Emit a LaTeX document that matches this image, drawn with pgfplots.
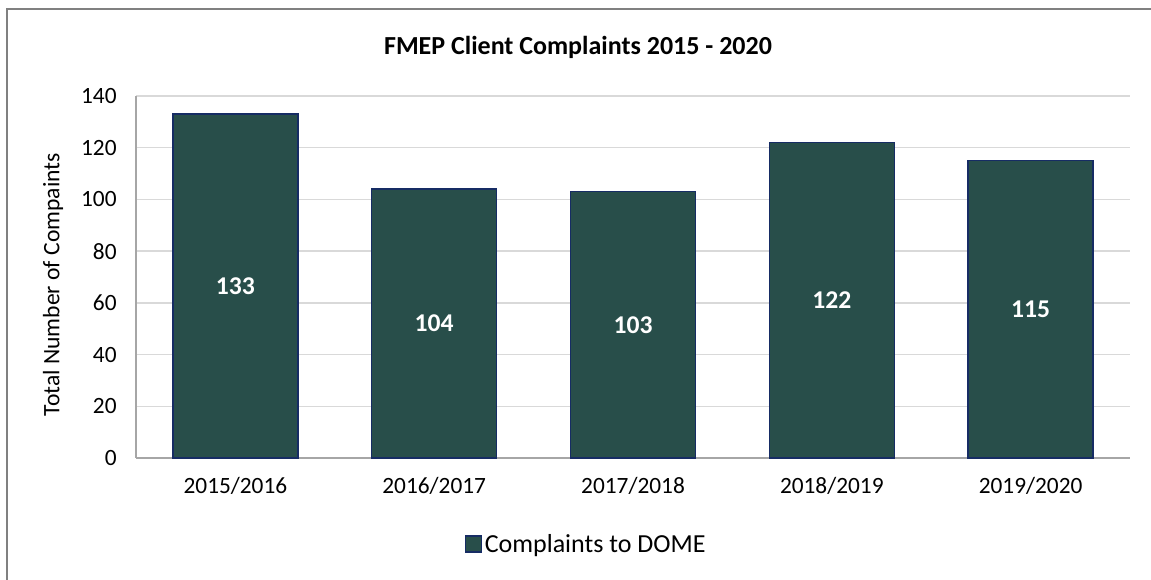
\documentclass[border=0pt]{standalone}
\usepackage{fontspec}
\setmainfont{Carlito}
\usepackage{pgfplots}
\usepackage{pgfplotstable}
\pgfplotsset{compat=1.18}
\definecolor{barfill}{RGB}{40,78,74}
\definecolor{baredge}{RGB}{22,44,100}
\definecolor{gridc}{RGB}{217,217,217}
\definecolor{axisc}{RGB}{166,166,166}
\definecolor{borderc}{RGB}{128,128,128}
\pgfplotstableread{
x y
0 133
1 104
2 103
3 122
4 115
}\datatable
\begin{document}
\begin{tikzpicture}
\useasboundingbox (-102pt,-91.5pt) rectangle (761.25pt,343.5pt);
\draw[borderc, line width=1.5pt] (-96.75pt,-95pt) -- (-96.75pt,336.75pt) -- (765pt,336.75pt);
\begin{axis}[
  scale only axis,
  width=745.5pt, height=271.5pt,
  xmin=-0.5, xmax=4.5,
  ymin=0, ymax=140,
  ytick={0,20,...,140},
  xtick={0,1,2,3,4},
  xticklabels={2015/2016,2016/2017,2017/2018,2018/2019,2019/2020},
  axis x line*=bottom, axis y line*=left,
  axis line style={axisc, line width=1.1pt, -},
  major tick length=0pt,
  ymajorgrids, grid style={gridc, line width=1pt},
  /pgf/number format/assume math mode=true,
  ticklabel style={font=\fontsize{17.5}{20}\selectfont, text=black},
  xticklabel style={yshift=-11pt},
  yticklabel style={xshift=-11pt},
  legend style={at={(0.4532,-0.2376)}, anchor=center, draw=none, fill=none,
    font=\fontsize{19.5}{22}\selectfont, inner sep=0pt},
  legend image code/.code={\draw[baredge, line width=1.1pt, fill=barfill] (0pt,-6pt) rectangle (12pt,6pt);},
  legend cell align=left,
  clip=false,
]
\addplot[ybar, bar width=93.75pt, fill=barfill, draw=baredge, line width=1.1pt] table[x=x,y=y] {\datatable};
\addlegendentry{Complaints to DOME}
\addplot[only marks, mark=none, forget plot,
  point meta=explicit,
  nodes near coords={\pgfmathprintnumber{\pgfplotspointmeta}},
  nodes near coords style={anchor=center, text=white, font=\bfseries\fontsize{19.2}{22}\selectfont}]
  table[x=x, y expr=\thisrow{y}/2, meta=y] {\datatable};
\end{axis}
\node[font=\bfseries\fontsize{19.5}{22}\selectfont] at (331.5pt,308.25pt) {FMEP Client Complaints 2015 - 2020};
\node[rotate=90, font=\fontsize{17.7}{20}\selectfont] at (-62.25pt,130pt) {Total Number of Compaints};
\end{tikzpicture}
\end{document}
